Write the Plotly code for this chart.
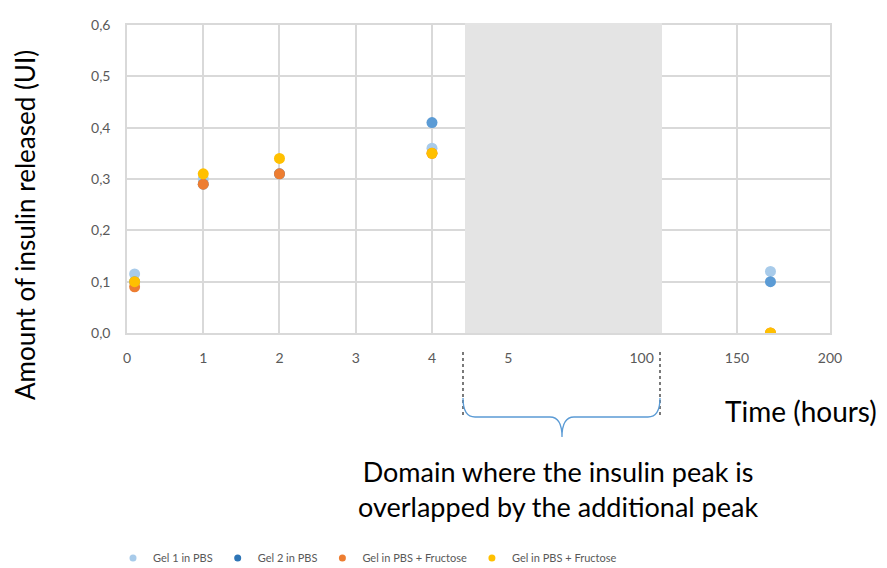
import numpy as np
import plotly.graph_objects as go

# ---- data ----
time_hours = [0.1, 1, 2, 4, 168]
gel1_pbs = [0.115, 0.30, 0.31, 0.36, 0.12]
gel2_pbs = [0.10, 0.29, 0.31, 0.41, 0.10]
gel_fruc_a = [0.09, 0.29, 0.31, 0.35, 0.0]
gel_fruc_b = [0.10, 0.31, 0.34, 0.35, 0.0]

series_names = ["Gel 1 in PBS", "Gel 2 in PBS", "Gel in PBS + Fructose", "Gel in PBS + Fructose"]
series_values = [gel1_pbs, gel2_pbs, gel_fruc_a, gel_fruc_b]
series_colors = ["#A8CBEA", "#5B9BD5", "#ED7D31", "#FFC000"]
legend_colors = ["#A8CBEA", "#2E75B6", "#ED7D31", "#FFC000"]

# broken time axis: tick hours and their axis positions
tick_hours = [0, 1, 2, 3, 4, 5, 100, 150, 200]
tick_pos = [0, 1, 2, 3, 4, 5, 6.75, 8.0, 9.22]
tick_labels = ["0", "1", "2", "3", "4", "5", "100", "150", "200"]

# ---- layout geometry (page pixels; the page body adds an 8px offset) ----
OFF = 8
W, H = 887, 568
PX0, PX1, PY0, PY1 = 127, 830, 25, 333   # plot area on the page
L, R, T, B = PX0 - OFF, W + OFF - PX1, PY0 - OFF, H + OFF - PY1
PW, PH = PX1 - PX0, PY1 - PY0


def px(x):
    return (x - PX0) / PW


def py(y):
    return (PY1 - y) / PH


x_pos = np.interp(time_hours, tick_hours, tick_pos)

fig = go.Figure()
for name, vals, col in zip(series_names, series_values, series_colors):
    fig.add_trace(go.Scatter(
        x=x_pos, y=vals, mode="markers", name=name, showlegend=False,
        marker=dict(color=col, size=11, line=dict(width=0)),
    ))
# legend entries (smaller markers like the original)
for name, col in zip(series_names, legend_colors):
    fig.add_trace(go.Scatter(
        x=[None], y=[None], mode="markers", name=name, showlegend=True,
        marker=dict(color=col, size=7),
    ))

grid = "#D9D9D9"
tick_font = dict(family="Lato, Carlito, sans-serif", size=14, color="#595959")

fig.update_xaxes(
    range=[0, tick_pos[-1]], tickmode="array", tickvals=tick_pos, ticktext=tick_labels,
    showgrid=True, gridcolor=grid, gridwidth=1.5, zeroline=False,
    showline=True, linecolor=grid, linewidth=1.5, mirror=True, automargin=False,
    tickfont=tick_font, ticks="", ticklabelstandoff=11, fixedrange=True,
)
fig.update_yaxes(
    range=[0, 0.6], dtick=0.1, tickformat=".1f",
    showgrid=True, gridcolor=grid, gridwidth=1.5, zeroline=False,
    showline=True, linecolor=grid, linewidth=1.5, mirror=True, automargin=False,
    tickfont=tick_font, ticks="", ticklabelstandoff=12, fixedrange=True,
)

shapes = []
# grey masked domain
shapes.append(dict(type="rect", xref="paper", yref="paper",
                   x0=px(465), x1=px(662), y0=0, y1=py(23),
                   fillcolor="#E4E4E4", line=dict(width=0), layer="above"))
# dashed delimiters
for xx in (463, 660):
    shapes.append(dict(type="line", xref="paper", yref="paper",
                       x0=px(xx), x1=px(xx), y0=py(352), y1=py(416),
                       line=dict(color="#222222", width=1.2, dash="dot")))
# brace
pts = [(463, 398), (463, 417), (475, 417), (550, 417), (562, 417), (562, 437),
       (562, 417), (574, 417), (648, 417), (660, 417), (660, 398)]
p = [(px(a), py(b)) for a, b in pts]
path = (f"M {p[0][0]},{p[0][1]} Q {p[1][0]},{p[1][1]} {p[2][0]},{p[2][1]} "
        f"L {p[3][0]},{p[3][1]} Q {p[4][0]},{p[4][1]} {p[5][0]},{p[5][1]} "
        f"Q {p[6][0]},{p[6][1]} {p[7][0]},{p[7][1]} "
        f"L {p[8][0]},{p[8][1]} Q {p[9][0]},{p[9][1]} {p[10][0]},{p[10][1]}")
shapes.append(dict(type="path", xref="paper", yref="paper", path=path,
                   line=dict(color="#5B9BD5", width=1.3)))

fam = "Lato, Carlito, sans-serif"
annotations = [
    dict(text="Amount of insulin released (UI)", xref="paper", yref="paper",
         x=px(25), y=py(225), textangle=-90, showarrow=False,
         font=dict(family=fam, size=26, color="#000000"),
         xanchor="center", yanchor="middle"),
    dict(text="Time (hours)", xref="paper", yref="paper",
         x=px(801), y=py(411), showarrow=False,
         font=dict(family=fam, size=28, color="#000000"),
         xanchor="center", yanchor="middle"),
    dict(text="Domain where the insulin peak is<br>overlapped by the additional peak",
         xref="paper", yref="paper", x=px(558), y=py(489), showarrow=False,
         font=dict(family=fam, size=27, color="#000000"),
         xanchor="center", yanchor="middle", align="center"),
]

fig.update_layout(
    width=W, height=H, margin=dict(l=L, r=R, t=T, b=B, pad=0, autoexpand=False),
    paper_bgcolor="white", plot_bgcolor="white",
    separators=",.",
    shapes=shapes, annotations=annotations,
    legend=dict(orientation="h", x=px(113), y=py(558), xanchor="left", yanchor="middle",
                font=dict(family=fam, size=11, color="#595959"),
                itemwidth=30, traceorder="normal", bgcolor="rgba(0,0,0,0)"),
    showlegend=True,
)

fig.write_html("out.html")
